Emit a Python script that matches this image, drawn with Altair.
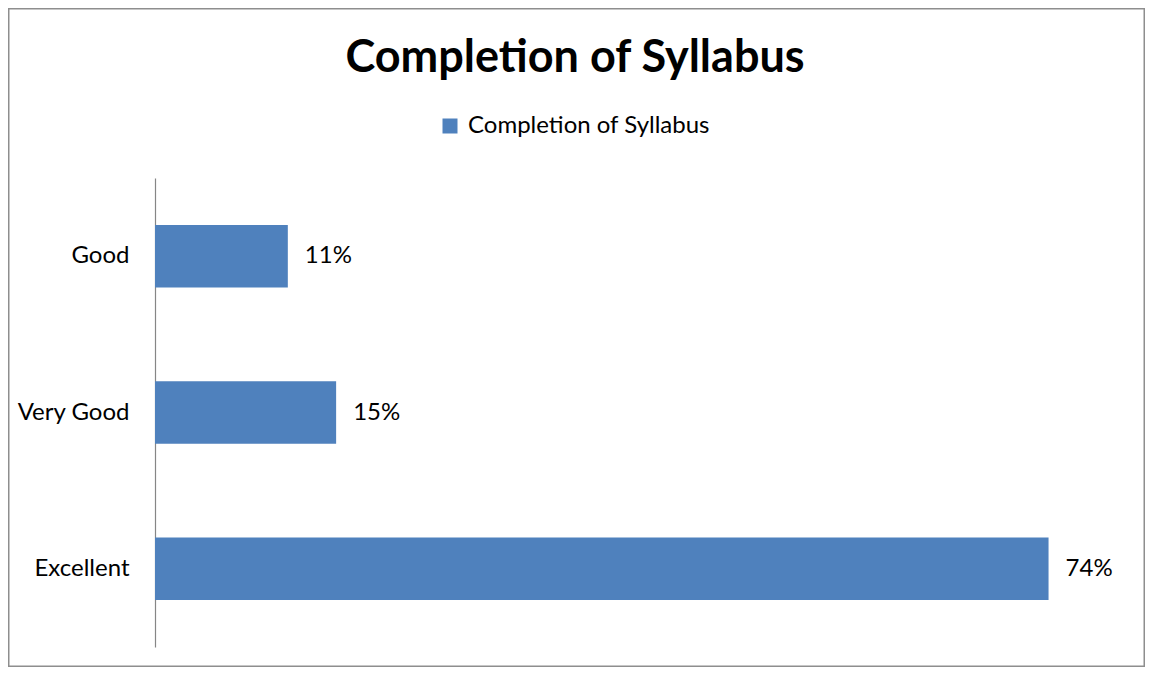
import altair as alt
import pandas as pd

categories = ["Good", "Very Good", "Excellent"]
values = [0.11, 0.15, 0.74]
series_name = "Completion of Syllabus"
title_text = "Completion of Syllabus"

df = pd.DataFrame({"category": categories, "value": values, "series": [series_name] * len(categories)})

FONT = "Lato"
BAR = "#4F81BD"
PLOT_W, PLOT_H = 966, 469

y_enc = alt.Y(
    "category:N",
    sort=categories,
    scale=alt.Scale(paddingInner=0.6, paddingOuter=0.3),
    axis=alt.Axis(
        title=None, ticks=False, domainColor="#868686", domainWidth=1.2,
        labelFont=FONT, labelFontSize=24, labelColor="#000000", labelPadding=26,
    ),
)
x_enc = alt.X("value:Q", scale=alt.Scale(domain=[0, 0.8], nice=False), axis=None)

bars = alt.Chart(df).mark_bar(color=BAR).encode(
    x=x_enc,
    y=y_enc,
    color=alt.Color(
        "series:N",
        scale=alt.Scale(range=[BAR]),
        legend=alt.Legend(
            title=None, orient="none", legendX=283, legendY=-64, padding=0,
            symbolType="square", symbolSize=225, symbolStrokeWidth=0,
            labelFont=FONT, labelFontSize=24, labelColor="#000000", labelOffset=6,
            labelLimit=600,
        ),
    ),
)

labels = alt.Chart(df).mark_text(
    align="left", baseline="middle", dx=17, font=FONT, fontSize=24, color="#000000"
).encode(x=x_enc, y=y_enc, text=alt.Text("value:Q", format=".0%"))

one = pd.DataFrame({"t": [title_text]})

border = alt.Chart(one).mark_rect(
    filled=False, stroke="#8E8E8E", strokeWidth=1.5
).encode(
    x=alt.value(-146.25), x2=alt.value(PLOT_W + 23.25),
    y=alt.value(-169.25), y2=alt.value(PLOT_H + 19.25),
)

title = alt.Chart(one).mark_text(
    align="center", baseline="alphabetic", font=FONT, fontSize=45,
    fontWeight="bold", color="#000000",
).encode(x=alt.value(420), y=alt.value(-106), text="t:N")

chart = alt.layer(border, title, bars, labels).properties(
    width=PLOT_W, height=PLOT_H,
    autosize=alt.AutoSizeParams(type="none"),
    padding={"left": 147, "top": 170, "right": 24, "bottom": 20},
    background="#ffffff",
).configure_view(stroke=None)

chart.save("out.html", embed_options={"renderer": "svg", "actions": False})
